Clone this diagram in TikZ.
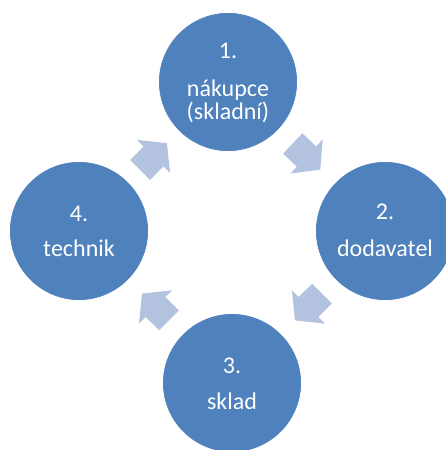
\documentclass[tikz,border=0pt]{standalone}
\usepackage{fontspec}
\setmainfont{Carlito}
\usetikzlibrary{calc}
\definecolor{cyclefill}{HTML}{4F81BD}
\definecolor{arrowfill}{HTML}{B3C3DF}
\begin{document}
\begin{tikzpicture}[x=1pt,y=1pt,
  stage/.style={circle, fill=cyclefill, draw=white, line width=0.8pt,
    minimum size=139pt, inner sep=0pt},
  stagetext/.style={anchor=base, text=white, inner sep=0pt,
    font=\fontsize{24}{28}\selectfont},
  cyclearrow/.pic={\fill[arrowfill] (-19,-14) -- (0,-14) -- (0,-23.5)
    -- (19,0) -- (0,23.5) -- (0,14) -- (-19,14) -- cycle;}]
\useasboundingbox (0,0) rectangle (446,450);
\begin{scope}
\clip (0,0) rectangle (446,450);
% the four stages of the cycle
\node[stage] (c1) at (228,368) {};
\node[stage] (c2) at (385,219) {};
\node[stage] (c3) at (232,67) {};
\node[stage] (c4) at (79,219) {};
% stage labels
\node[stagetext] (t1a) at ($(c1)+(0,23)$) {1.};
\node[stagetext] (t1b) at ($(c1)+(0,-15)$) {nákupce};
\node[stagetext] (t1c) at ($(c1)+(0,-38)$) {(skladní)};
\node[stagetext] (t2a) at ($(c2)+(0,11)$) {2.};
\node[stagetext] (t2b) at ($(c2)+(0,-26)$) {dodavatel};
\node[stagetext] (t3a) at ($(c3)+(0,9)$) {3.};
\node[stagetext] (t3b) at ($(c3)+(0,-27)$) {sklad};
\node[stagetext] (t4a) at ($(c4)+(0,9)$) {4.};
\node[stagetext] (t4b) at ($(c4)+(0,-26)$) {technik};
% block arrows between neighbouring stages, clockwise
\pic (a12) [rotate=-43.5] at ($(c1)!0.5!(c2)$) {cyclearrow};
\pic (a23) [rotate=-135.2] at ($(c2)!0.5!(c3)$) {cyclearrow};
\pic (a34) [rotate=135.2] at ($(c3)!0.5!(c4)$) {cyclearrow};
\pic (a41) [rotate=45] at ($(c4)!0.5!(c1)$) {cyclearrow};
\end{scope}
\end{tikzpicture}
\end{document}
